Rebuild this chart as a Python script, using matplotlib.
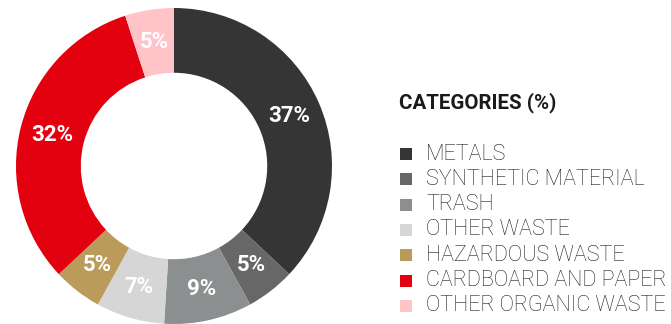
import matplotlib
matplotlib.use("Agg")
import matplotlib.pyplot as plt
from matplotlib.patches import Rectangle

categories = ["METALS", "SYNTHETIC MATERIAL", "TRASH", "OTHER WASTE",
              "HAZARDOUS WASTE", "CARDBOARD AND PAPER", "OTHER ORGANIC WASTE"]
values = [37, 5, 9, 7, 5, 32, 5]
colors = ["#353535", "#676767", "#8c8f8f", "#d6d6d6", "#bb9b5a", "#e3000f", "#ffc3c8"]
legend_title = "CATEGORIES (%)"

W, H = 671, 324
fig = plt.figure(figsize=(W / 100, H / 100), dpi=100)
fig.patch.set_facecolor("white")

ax = fig.add_axes([16 / W, 0 / H, 316 / W, 316 / H])
wedges, texts = ax.pie(values, colors=colors, startangle=90, counterclock=False,
                       radius=1.0, wedgeprops=dict(width=0.41, edgecolor="none"),
                       labels=[f"{v}%" for v in values], labeldistance=0.795,
                       textprops=dict(color="white", fontsize=16, fontweight="bold",
                                      family="Roboto", ha="center", va="center"))
ax.set_xlim(-1, 1)
ax.set_ylim(-1, 1)
ax.set_aspect("equal")
ax.axis("off")

# legend
fig.text(399 / W, 1 - 103 / H, legend_title, fontsize=14.8, fontweight="bold",
         family="Roboto", color="#1a1a1a", ha="left", va="center")
y0 = 154
dy = 25.3
for i, (c, col) in enumerate(zip(categories, colors)):
    y = y0 + i * dy
    fig.patches.append(Rectangle((400 / W, 1 - (y + 6) / H), 12 / W, 12 / H,
                                 transform=fig.transFigure, facecolor=col,
                                 edgecolor="none"))
    fig.text(426 / W, 1 - y / H, c, fontsize=15.5, family="Roboto",
             fontweight="light", color="#1e1e1e", ha="left", va="center")

fig.savefig("out.png", dpi=100, facecolor="white")
